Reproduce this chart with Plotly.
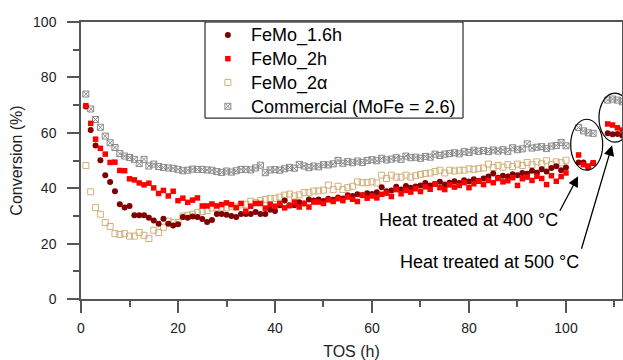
import plotly.graph_objects as go

# ---------------- data ----------------
tos = [1, 2, 3, 4, 5, 6, 7, 8, 9, 10, 11, 12, 13, 14, 15, 16, 17, 18, 19, 20,
       21, 22, 23, 24, 25, 26, 27, 28, 29, 30, 31, 32, 33, 34, 35, 36, 37, 38, 39, 40,
       41, 42, 43, 44, 45, 46, 47, 48, 49, 50, 51, 52, 53, 54, 55, 56, 57, 58, 59, 60,
       61, 62, 63, 64, 65, 66, 67, 68, 69, 70, 71, 72, 73, 74, 75, 76, 77, 78, 79, 80,
       81, 82, 83, 84, 85, 86, 87, 88, 89, 90, 91, 92, 93, 94, 95, 96, 97, 98, 99, 100,
       102.6, 103.6, 104.6, 105.6, 108.6, 109.6, 110.6, 111.6]

tos_2a = tos[:100]

femo_16h = [69.5, 61, 55.4, 50.1, 44.7, 42.2, 38.9, 34.2, 33, 33.6,
            30.2, 30.2, 30.2, 29.3, 28.3, 27.2, 29, 27.2, 26.5, 27,
            29.6, 29.3, 29.8, 29.6, 28.9, 27.8, 28.5, 30.7, 30.7, 30.4,
            30, 29.6, 30.7, 30.7, 30.7, 31.4, 30.7, 30.7, 32.2, 31.8,
            33.8, 35.6, 33.8, 33.8, 34.9, 34.5, 35.9, 35.6, 35.9, 35.4,
            36.2, 35.8, 36.6, 36.3, 37.5, 37.2, 37.8, 37.5, 38.2, 37.9,
            38.5, 40.3, 38.9, 39.2, 40.5, 39.5, 40.8, 40.2, 40.6, 41,
            41.9, 41, 41.5, 42.3, 41.3, 42, 42.5, 41.9, 42.9, 42.4,
            43.2, 42.7, 43.5, 44.2, 45.3, 43.8, 44.5, 44.2, 45, 44.7,
            45.5, 45.2, 46.3, 45.6, 46.8, 46, 47.3, 47.9, 46.5, 47.5,
            49.3, 49.3, 47.5, 49, 59.8, 59.5, 59.6, 59]

femo_2h = [69.8, 63.4, 57.7, 54.4, 52.3, 49.3, 49.4, 46.4, 46.3, 43.4,
           43, 41.9, 41.2, 41.8, 40.1, 38.1, 39.2, 37.2, 38.9, 35.5,
           36.4, 34.9, 35.7, 36.5, 33.6, 33.6, 34.3, 33.6, 34.1, 34.7,
           34.1, 33, 34.5, 31.7, 33.5, 34.5, 34.5, 32.8, 34.2, 33.5,
           34.5, 32.9, 33.7, 35, 33.2, 34.5, 33.2, 35, 35, 34.5,
           35.8, 35.2, 36.2, 35.5, 36.8, 36, 35.2, 37.5, 36.4, 37.2,
           36.5, 37.8, 38.2, 37, 39.5, 38, 39.2, 38.6, 39.8, 38.8,
           40.5, 39.6, 41.5, 40.2, 39.5, 41.2, 40.4, 41, 42, 40.2,
           41.6, 42.5, 41.3, 42.8, 42, 43.5, 42.3, 42.7, 43.8, 41,
           43.4, 44, 42.8, 44.3, 43.5, 41.3, 44.5, 42.5, 44.2, 45.5,
           52, 48.5, 48, 49.2, 63.2, 62.8, 61.8, 61]

femo_2a = [48.2, 38.7, 33, 30.6, 27.6, 26.2, 23.6, 23.3, 23.6, 22.7,
           22.7, 24, 23, 21.8, 24.8, 24, 25.9, 28.1, 27.6, 27.6,
           29.9, 30.2, 30.6, 31.2, 31.6, 31.9, 32.9, 32.9, 32.9, 32.9,
           33.5, 33.2, 34, 34.2, 35.3, 34.8, 35.5, 35.9, 36.3, 36.3,
           36.8, 37.5, 37.9, 37.2, 37.6, 38.4, 38.4, 39, 39, 39.3,
           41.1, 39.5, 40.7, 39.5, 40.2, 40.7, 42.3, 42, 42, 42.3,
           41.9, 44.7, 43.5, 44.7, 44, 44, 44.7, 44, 44.5, 45,
           45.3, 45.5, 46, 46.5, 45.5, 46.5, 46.2, 46.5, 46.5, 47,
           46.8, 47.1, 47.3, 48.7, 47.5, 48.2, 47.6, 48.5, 47.8, 48.7,
           48.2, 49.3, 48.5, 49.5, 48.8, 49.9, 48.6, 49.5, 49.2, 50.1]

commercial = [74, 68.6, 64.8, 62, 58.8, 56.4, 54.7, 52.5, 51.6, 51.1,
              50.4, 48.9, 50.4, 48, 48.7, 47.8, 47.5, 47.3, 47.2, 46.8,
              46.3, 46.5, 46.9, 46.8, 46.8, 46.6, 46.5, 46, 45.7, 46.2,
              45.8, 46.3, 46.8, 46.8, 46.6, 47.3, 48.3, 45.6, 46.6, 46.7,
              46.5, 47, 47.5, 47.2, 48.6, 48, 47.4, 48, 47.7, 48.5,
              48.4, 48.8, 50, 49, 49.6, 49.2, 49.8, 49.3, 50, 50.3,
              49.9, 50.8, 50.2, 50.5, 51, 50.4, 51.6, 51, 51.2, 50.8,
              51.5, 51.2, 52.3, 51.8, 52.3, 52.5, 52.8, 52.4, 53.2, 52.9,
              53.7, 53.3, 53.6, 53.2, 53.8, 53.4, 53.9, 53.3, 54.6, 53.9,
              54.2, 56, 54.5, 54.8, 55, 54.3, 55.2, 55.4, 56.5, 55.3,
              61.9, 60.7, 60, 59.8, 71.8, 72.2, 71.8, 71.2]

x_ticks = [0, 20, 40, 60, 80, 100]
y_ticks = [0, 20, 40, 60, 80, 100]

FONT = "Arial, Liberation Sans, sans-serif"
AX = "#555555"


def big(name):
    return '<span style="font-size:18px">' + name + '</span>'


fig = go.Figure()
fig.add_trace(go.Scatter(x=tos, y=commercial, mode="markers", name=big("Commercial (MoFe = 2.6)"),
                         legendrank=4,
                         marker=dict(symbol="square-x-open", size=6, color="#8a8a8a",
                                     line=dict(width=1))))
fig.add_trace(go.Scatter(x=tos_2a, y=femo_2a, mode="markers", name=big("FeMo_2α"),
                         legendrank=3,
                         marker=dict(symbol="square-open", size=6, color="#d2b07a",
                                     line=dict(width=1))))
fig.add_trace(go.Scatter(x=tos, y=femo_16h, mode="markers", name=big("FeMo_1.6h"),
                         legendrank=1,
                         marker=dict(symbol="circle", size=6, color="#800000")))
fig.add_trace(go.Scatter(x=tos, y=femo_2h, mode="markers", name=big("FeMo_2h"),
                         legendrank=2,
                         marker=dict(symbol="square", size=5.5, color="#ff0000")))

# legend frame
fig.add_shape(type="rect", xref="paper", yref="paper",
              x0=(205 - 81) / 541, x1=(463 - 81) / 541, y0=(298.7 - 118) / 276.7, y1=1,
              line=dict(color="black", width=1), fillcolor="white", layer="below")

# ellipses around heat-treated groups
fig.add_shape(type="circle", xref="x", yref="y", x0=100.97, x1=107.57, y0=46.5, y1=64.9,
              line=dict(color="black", width=1.2))
fig.add_shape(type="circle", xref="x", yref="y", x0=106.8, x1=113.4, y0=56.6, y1=74.3,
              line=dict(color="black", width=1.2))

# arrows
fig.add_annotation(x=102.5, y=44.3, ax=-19, ay=36, text="", showarrow=True,
                   arrowhead=2, arrowsize=1.6, arrowwidth=1.3, arrowcolor="black", standoff=0)
fig.add_annotation(x=109.5, y=55.5, ax=-31, ay=105, text="", showarrow=True,
                   arrowhead=2, arrowsize=1.6, arrowwidth=1.3, arrowcolor="black", standoff=0)

fig.add_annotation(x=79.9, y=28.4, text="Heat treated at 400 °C", showarrow=False,
                   font=dict(size=18, color="black", family=FONT))
fig.add_annotation(x=84.3, y=13.2, text="Heat treated at 500 °C", showarrow=False,
                   font=dict(size=18, color="black", family=FONT))

fig.update_layout(
    width=623, height=360,
    margin=dict(l=81, r=1, t=22, b=61.3, autoexpand=False),
    paper_bgcolor="white", plot_bgcolor="white",
    font=dict(family=FONT, color="#222222"),
    showlegend=True,
    legend=dict(x=0.229, y=1.0145, xanchor="left", yanchor="top",
                bgcolor="rgba(0,0,0,0)", borderwidth=0,
                font=dict(size=16, color="black", family=FONT),
                itemwidth=36, tracegroupgap=0),
)
fig.update_xaxes(range=[0, 111.55], tickvals=x_ticks, ticks="outside", ticklen=12, tickwidth=1.5,
                 tickcolor=AX, showline=True, linecolor=AX, linewidth=1.5, mirror=True,
                 showgrid=False, zeroline=False, ticklabelstandoff=3,
                 minor=dict(dtick=10, tick0=0, ticks="outside", ticklen=6, tickwidth=1.5, tickcolor=AX),
                 tickfont=dict(size=14, color="#222222"),
                 title=dict(text="TOS (h)", font=dict(size=16, color="#222222"), standoff=11))
fig.update_yaxes(range=[0, 100], tickvals=y_ticks, ticks="outside", ticklen=12, tickwidth=1.5,
                 tickcolor=AX, showline=True, linecolor=AX, linewidth=1.5, mirror=True,
                 showgrid=False, zeroline=False, ticklabelstandoff=8,
                 minor=dict(dtick=10, tick0=0, ticks="outside", ticklen=6, tickwidth=1.5, tickcolor=AX),
                 tickfont=dict(size=14, color="#222222"),
                 title=dict(text="Conversion (%)", font=dict(size=16, color="#222222"), standoff=6))

fig.write_html("out.html", config={"displayModeBar": False},
               post_script="document.body.style.margin='0px';")
